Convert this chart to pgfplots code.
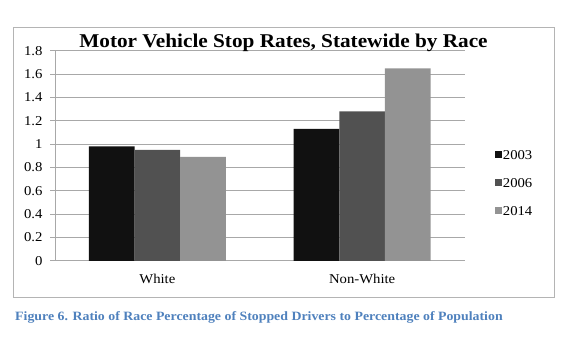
\documentclass[border=0pt]{standalone}
\usepackage{fontspec}
\setmainfont{Liberation Serif}[FakeStretch=1.09]
\usepackage{pgfplots}
\pgfplotsset{compat=1.18}
\definecolor{cA}{HTML}{111111}
\definecolor{cB}{HTML}{515151}
\definecolor{cC}{HTML}{939393}
\definecolor{capblue}{HTML}{4F81BD}
\definecolor{gridc}{HTML}{A8A8A8}
\definecolor{framec}{HTML}{B4B4B4}
\begin{document}
\begin{tikzpicture}[x=1bp,y=1bp]
\path[use as bounding box] (0,0) rectangle (572,357);
\draw[color=framec, line width=0.9bp] (13,60) rectangle (554,330);
\begin{axis}[
  at={(55bp,96.2bp)}, anchor=south west,
  scale only axis, width=409.5bp, height=210bp,
  xmin=-0.5, xmax=1.5, ymin=0, ymax=1.8,
  ybar=0pt, bar width=45.6bp,
  axis x line=bottom, axis y line=left,
  axis line style={-, draw=gridc, line width=0.9bp},
  xtick={0,1}, xticklabels={White,Non-White},
  x tick style={draw=none},
  ytick={0,0.2,0.4,0.6,0.8,1,1.2,1.4,1.6,1.8},
  yticklabels={0,0.2,0.4,0.6,0.8,1,1.2,1.4,1.6,1.8},
  y tick style={draw=gridc, line width=0.9bp},
  tick align=outside, major tick length=5bp,
  ymajorgrids, grid style={draw=gridc, line width=0.9bp},
  ticklabel style={font=\fontsize{13.5bp}{13.5bp}\selectfont},
  yticklabel style={xshift=-4bp},
  xticklabel style={yshift=-5bp},
  title={Motor Vehicle Stop Rates, Statewide by Race},
  title style={at={(0.558,1)}, anchor=base, yshift=-2.5bp, font=\bfseries\fontsize{19.5bp}{20bp}\selectfont},
  legend style={at={(1.075,0.37)}, anchor=west, draw=none, fill=none, inner sep=0pt,
    font=\fontsize{13.5bp}{13.5bp}\selectfont, row sep=18bp,
    nodes={inner sep=0.5bp, text height=9bp, text depth=0bp}},
  legend cell align=left,
  legend image code/.code={\fill (0bp,-3bp) rectangle (7bp,4bp);},
]
\addplot[fill=cA, draw=none] coordinates {(0,0.98) (1,1.13)};
\addplot[fill=cB, draw=none] coordinates {(0,0.95) (1,1.28)};
\addplot[fill=cC, draw=none] coordinates {(0,0.89) (1,1.65)};
\legend{2003,2006,2014}
\end{axis}
\node[anchor=base west, font=\bfseries\fontsize{12.7bp}{13bp}\selectfont, text=capblue, inner sep=0pt] at (15,37) {Figure 6. Ratio of Race Percentage of Stopped Drivers to Percentage of Population};
\end{tikzpicture}
\end{document}
